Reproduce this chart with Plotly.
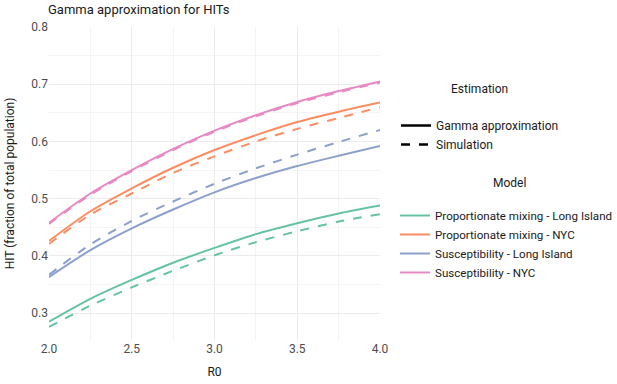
import plotly.graph_objects as go

r0 = [2.0, 2.25, 2.5, 2.75, 3.0, 3.25, 3.5, 3.75, 4.0]

models = ["Proportionate mixing - Long Island", "Proportionate mixing - NYC",
          "Susceptibility - Long Island", "Susceptibility - NYC"]
colors = ["#66C2A5", "#FC8D62", "#8DA0CB", "#E78AC3"]

gamma_pm_li = [0.285, 0.325, 0.358, 0.388, 0.414, 0.438, 0.457, 0.474, 0.488]
sim_pm_li = [0.276, 0.313, 0.345, 0.374, 0.401, 0.424, 0.443, 0.460, 0.473]
gamma_pm_nyc = [0.426, 0.478, 0.518, 0.554, 0.585, 0.611, 0.634, 0.652, 0.668]
sim_pm_nyc = [0.421, 0.472, 0.509, 0.545, 0.574, 0.600, 0.622, 0.641, 0.660]
gamma_su_li = [0.363, 0.410, 0.448, 0.481, 0.511, 0.536, 0.557, 0.575, 0.592]
sim_su_li = [0.367, 0.420, 0.461, 0.495, 0.526, 0.553, 0.577, 0.599, 0.620]
gamma_su_nyc = [0.458, 0.509, 0.550, 0.587, 0.619, 0.646, 0.669, 0.688, 0.705]
sim_su_nyc = [0.456, 0.507, 0.548, 0.585, 0.617, 0.644, 0.667, 0.686, 0.703]

gamma = [gamma_pm_li, gamma_pm_nyc, gamma_su_li, gamma_su_nyc]
sim = [sim_pm_li, sim_pm_nyc, sim_su_li, sim_su_nyc]

fig = go.Figure()

for name, col, g, s in zip(models, colors, gamma, sim):
    fig.add_trace(go.Scatter(x=r0, y=s, mode="lines", line=dict(color=col, width=2, dash="dash", shape="spline", smoothing=0.8),
                             showlegend=False, hoverinfo="skip"))
    fig.add_trace(go.Scatter(x=r0, y=g, mode="lines", line=dict(color=col, width=2, shape="spline", smoothing=0.8),
                             name=name, legend="legend2"))

fig.add_trace(go.Scatter(x=[None], y=[None], mode="lines", line=dict(color="black", width=2.5),
                         name="Gamma approximation", legend="legend"))
fig.add_trace(go.Scatter(x=[None], y=[None], mode="lines", line=dict(color="black", width=2.5, dash="dash"),
                         name="Simulation", legend="legend"))

font = "Roboto, sans-serif"
grid_major = "#EBEBEB"
grid_minor = "#F4F4F4"

fig.update_layout(
    width=617, height=384,
    margin=dict(l=49, r=237, t=27, b=44),
    paper_bgcolor="white", plot_bgcolor="white",
    font=dict(family=font, size=12, color="#1a1a1a"),
    title=dict(text="Gamma approximation for HITs", x=48/617, xanchor="left", xref="container",
               y=1 - 9/384, yanchor="middle", yref="container", font=dict(size=13, color="#1a1a1a")),
    xaxis=dict(range=[2.0, 4.0], dtick=0.5, tick0=2.0, tickformat=".1f", showgrid=True, gridcolor=grid_major,
               gridwidth=1, zeroline=False, showline=False, ticks="", tickfont=dict(size=12, color="#4d4d4d"),
               automargin=False,
               minor=dict(dtick=0.25, tick0=2.0, showgrid=True, gridcolor=grid_minor, gridwidth=1),
               title=dict(text="R0", font=dict(size=12, color="#1a1a1a"), standoff=12)),
    yaxis=dict(range=[0.253, 0.8], dtick=0.1, tick0=0.3, tickformat=".1f", showgrid=True, gridcolor=grid_major,
               gridwidth=1, zeroline=False, showline=False, ticks="", tickfont=dict(size=12, color="#4d4d4d"),
               automargin=False,
               minor=dict(dtick=0.05, tick0=0.25, showgrid=True, gridcolor=grid_minor, gridwidth=1),
               title=dict(text="HIT (fraction of total population)", font=dict(size=12, color="#1a1a1a"), standoff=14)),
    legend=dict(xref="container", yref="container", x=396/617, xanchor="left", y=1 - 111/384, yanchor="top",
                bgcolor="rgba(0,0,0,0)", font=dict(size=12), itemwidth=30, tracegroupgap=0),
    legend2=dict(xref="container", yref="container", x=395/617, xanchor="left", y=1 - 201/384, yanchor="top",
                 bgcolor="rgba(0,0,0,0)", font=dict(size=11.6), itemwidth=30, tracegroupgap=0),
    annotations=[
        dict(text="Estimation", x=(479 - 49) / 331, y=(340 - 89) / 313, xref="paper", yref="paper",
             showarrow=False, xanchor="center", yanchor="middle", font=dict(size=12, color="#1a1a1a")),
        dict(text="Model", x=(509 - 49) / 331, y=(340 - 183) / 313, xref="paper", yref="paper",
             showarrow=False, xanchor="center", yanchor="middle", font=dict(size=12, color="#1a1a1a")),
    ],
)

fig.write_html("out.html", config={"displayModeBar": False},
               post_script="document.body.style.margin='0px';")
